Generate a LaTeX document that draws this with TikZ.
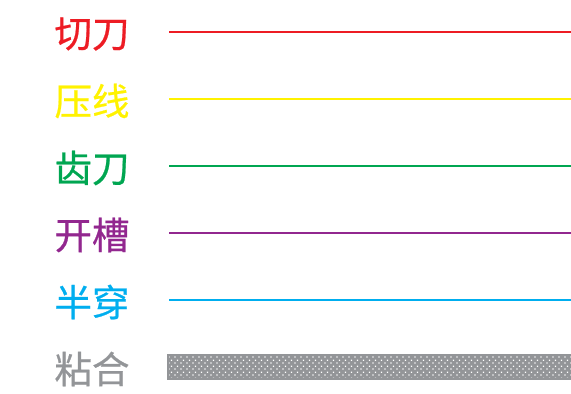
\documentclass[tikz,border=0pt]{standalone}
\usepackage{fontspec}
\newfontfamily\cjk[FakeBold=0.6]{Noto Sans CJK SC}
\usetikzlibrary{patterns}
\pgfdeclarepatternformonly{bigdots}{\pgfqpoint{0pt}{0pt}}{\pgfqpoint{6pt}{6pt}}{\pgfqpoint{6pt}{6pt}}{%
  \pgfpathrectangle{\pgfqpoint{0.4pt}{0.4pt}}{\pgfqpoint{1.5pt}{1.5pt}}%
  \pgfpathrectangle{\pgfqpoint{3.4pt}{3.4pt}}{\pgfqpoint{1.5pt}{1.5pt}}%
  \pgfusepath{fill}}
\definecolor{cred}{HTML}{ED1C24}
\definecolor{cyellow}{HTML}{FFF200}
\definecolor{cgreen}{HTML}{00A651}
\definecolor{cpurple}{HTML}{92278F}
\definecolor{ccyan}{HTML}{00AEEF}
\definecolor{cgray}{HTML}{939598}
\begin{document}
\begin{tikzpicture}[x=1pt,y=1pt,
  lab/.style={font=\cjk\fontsize{37.5}{37.5}\selectfont, anchor=center, inner sep=0pt},
  ln/.style={line width=2.5pt}]
\useasboundingbox (0,0) rectangle (571,394);
\node[lab, text=cred]    (t1) at (92,360) {切刀};
\node[lab, text=cyellow] (t2) at (92,293) {压线};
\node[lab, text=cgreen]  (t3) at (92,226) {齿刀};
\node[lab, text=cpurple] (t4) at (92,159) {开槽};
\node[lab, text=ccyan]   (t5) at (92,92) {半穿};
\node[lab, text=cgray]   (t6) at (92,25) {粘合};
\coordinate (a1) at (169,362); \coordinate (b1) at (571,362);
\coordinate (a2) at (169,295); \coordinate (b2) at (571,295);
\coordinate (a3) at (169,228); \coordinate (b3) at (571,228);
\coordinate (a4) at (169,161); \coordinate (b4) at (571,161);
\coordinate (a5) at (169,94);  \coordinate (b5) at (571,94);
\draw[ln, cred] (a1) -- (b1);
\draw[ln, cyellow] (a2) -- (b2);
\draw[ln, cgreen] (a3) -- (b3);
\draw[ln, cpurple] (a4) -- (b4);
\draw[ln, ccyan] (a5) -- (b5);
\coordinate (g1) at (168,15); \coordinate (g2) at (572,39);
\fill[cgray] (g1) rectangle (g2);
\fill[pattern=bigdots, pattern color=white] (g1) rectangle (g2);
\draw[cgray, line width=1.5pt] (g1) rectangle (g2);
\end{tikzpicture}
\end{document}
